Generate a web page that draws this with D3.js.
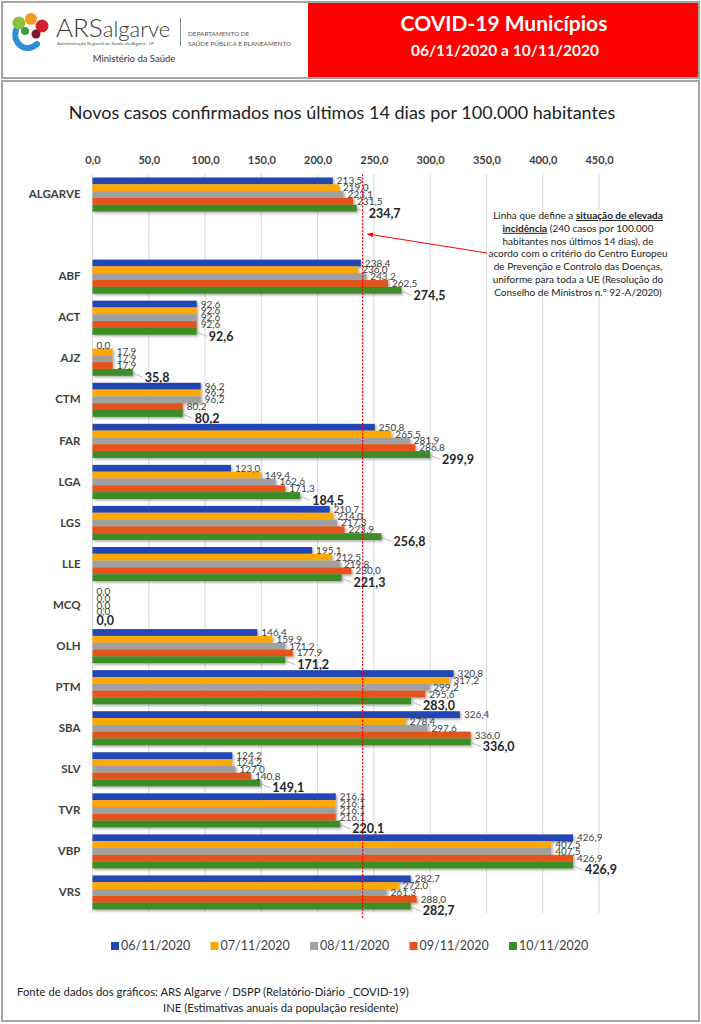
<!DOCTYPE html>
<html>
<head>
<meta charset="utf-8">
<script src="https://cdn.jsdelivr.net/npm/d3@7.9.0/dist/d3.min.js"></script>
<style>
  body { margin: 0; background: #fff; }
  svg { display: block; font-family: Lato, "Open Sans", sans-serif; }
</style>
</head>
<body>
<div id="chart"></div>
<script>
// Municipalities (ALGARVE = region total)
const municipios = ["ALGARVE", "ABF", "ACT", "AJZ", "CTM", "FAR", "LGA", "LGS", "LLE",
  "MCQ", "OLH", "PTM", "SBA", "SLV", "TVR", "VBP", "VRS"];

const dates = ["06/11/2020", "07/11/2020", "08/11/2020", "09/11/2020", "10/11/2020"];

// new cases in last 14 days per 100.000 inhabitants, one array per date
const v0611 = [213.5, 238.4, 92.6, 0.0, 96.2, 250.8, 123.0, 210.7, 195.1, 0.0, 146.4, 320.8, 326.4, 124.2, 216.1, 426.9, 282.7];
const v0711 = [219.0, 236.0, 92.6, 17.9, 96.2, 265.5, 149.4, 214.0, 212.5, 0.0, 159.9, 317.2, 278.4, 124.2, 216.1, 407.5, 272.0];
const v0811 = [223.1, 243.2, 92.6, 17.9, 96.2, 281.9, 162.6, 217.3, 219.8, 0.0, 171.2, 299.2, 297.6, 127.0, 216.1, 407.5, 261.3];
const v0911 = [231.5, 262.5, 92.6, 17.9, 80.2, 286.8, 171.3, 223.9, 230.0, 0.0, 177.9, 295.6, 336.0, 140.8, 216.1, 426.9, 288.0];
const v1011 = [234.7, 274.5, 92.6, 35.8, 80.2, 299.9, 184.5, 256.8, 221.3, 0.0, 171.2, 283.0, 336.0, 149.1, 220.1, 426.9, 282.7];

const series = [v0611, v0711, v0811, v0911, v1011];
const colors = ["#2247B4", "#FFA800", "#A0A0A0", "#E5521B", "#3C8C25"];

const xTicks = [0, 50, 100, 150, 200, 250, 300, 350, 400, 450];
const threshold = 240;

const W = 701, H = 1024;
const fmt = v => d3.format(".1f")(v).replace(".", ",");

const svg = d3.select("#chart").append("svg")
  .attr("width", W).attr("height", H);

const defs = svg.append("defs");
defs.append("filter").attr("id", "shadow")
  .attr("x", "-5%").attr("y", "-50%").attr("width", "120%").attr("height", "250%")
  .append("feDropShadow")
    .attr("dx", 1.5).attr("dy", 1.5).attr("stdDeviation", 0.8)
    .attr("flood-color", "#000").attr("flood-opacity", 0.35);
defs.append("marker").attr("id", "arrow")
  .attr("viewBox", "0 0 10 10").attr("refX", 9).attr("refY", 5)
  .attr("markerWidth", 6).attr("markerHeight", 6).attr("orient", "auto")
  .append("path").attr("d", "M0,1 L10,5 L0,9 Z").attr("fill", "#f00");

// ---- header ----
svg.append("rect").attr("x", 308).attr("y", 2).attr("width", 391).attr("height", 76).attr("fill", "#ff0000");
svg.append("rect").attr("x", 2).attr("y", 2).attr("width", 697).attr("height", 76)
  .attr("fill", "none").attr("stroke", "#a6a6a6").attr("stroke-width", 2);

svg.append("text").attr("x", 504).attr("y", 31).attr("text-anchor", "middle")
  .attr("fill", "#fff").attr("font-weight", "bold").attr("font-size", 21)
  .text("COVID-19 Municípios");
svg.append("text").attr("x", 505).attr("y", 56).attr("text-anchor", "middle")
  .attr("fill", "#fff").attr("font-weight", "bold").attr("font-size", 15.5)
  .text("06/11/2020 a 10/11/2020");

// logo
const logo = svg.append("g");
logo.append("path").attr("d", "M16,30 C12,44 26,54 37,44")
  .attr("fill", "none").attr("stroke", "#2c8fd3").attr("stroke-width", 6).attr("stroke-linecap", "round");
logo.append("circle").attr("cx", 19).attr("cy", 23).attr("r", 6.5).attr("fill", "#8bbf3c");
logo.append("circle").attr("cx", 31).attr("cy", 19).attr("r", 6).attr("fill", "#f39a1e");
logo.append("circle").attr("cx", 42).attr("cy", 26).attr("r", 6.5).attr("fill", "#d0232c");
logo.append("circle").attr("cx", 36).attr("cy", 34).attr("r", 4.5).attr("fill", "#7a1c2e");
logo.append("circle").attr("cx", 25).attr("cy", 31).attr("r", 4).attr("fill", "#3a9a4a");
logo.append("circle").attr("cx", 31).attr("cy", 27).attr("r", 2.5).attr("fill", "#fff");

const brand = svg.append("text").attr("x", 56).attr("y", 37).attr("fill", "#3a3a3a").attr("font-weight", 300);
brand.append("tspan").attr("font-size", 26).text("ARS");
brand.append("tspan").attr("font-size", 22).text("algarve");
svg.append("text").attr("x", 57).attr("y", 45).attr("font-size", 4.6).attr("fill", "#555")
  .text("Administração Regional de Saúde do Algarve, I.P.");
svg.append("line").attr("x1", 180.5).attr("x2", 180.5).attr("y1", 18).attr("y2", 46)
  .attr("stroke", "#666").attr("stroke-width", 0.8);
svg.append("text").attr("x", 188).attr("y", 36).attr("font-size", 6.4).attr("fill", "#555")
  .text("DEPARTAMENTO DE");
svg.append("text").attr("x", 188).attr("y", 46).attr("font-size", 6.4).attr("fill", "#555")
  .text("SAÚDE PÚBLICA E PLANEAMENTO");
svg.append("text").attr("x", 134).attr("y", 62).attr("text-anchor", "middle")
  .attr("font-size", 9.5).attr("fill", "#333").text("Ministério da Saúde");

// ---- body frame ----
svg.append("rect").attr("x", 2).attr("y", 81).attr("width", 697).attr("height", 940)
  .attr("fill", "none").attr("stroke", "#a6a6a6").attr("stroke-width", 2);

svg.append("text").attr("x", 342).attr("y", 119).attr("text-anchor", "middle")
  .attr("font-size", 18).attr("fill", "#222")
  .text("Novos casos confirmados nos últimos 14 dias por 100.000 habitantes");

// ---- scales ----
const slots = [municipios[0], " ", ...municipios.slice(1)];
const x = d3.scaleLinear().domain([0, 450]).range([92.5, 599]);
const y0 = d3.scaleBand().domain(slots).range([174, 913])
  .paddingInner(0.17).paddingOuter(0.085);
const y1 = d3.scaleBand().domain(dates).range([0, y0.bandwidth()]);

const [yTop, yBot] = y0.range();

// gridlines
svg.append("g").selectAll("line").data(xTicks).join("line")
  .attr("x1", d => x(d)).attr("x2", d => x(d))
  .attr("y1", yTop).attr("y2", yBot)
  .attr("stroke", "#d9d9d9").attr("stroke-width", 1);

// top axis
const xAxis = svg.append("g").attr("transform", `translate(0,${yTop - 2})`)
  .call(d3.axisTop(x).tickValues(xTicks).tickFormat(fmt).tickSize(0).tickPadding(8));
xAxis.select(".domain").remove();
xAxis.selectAll("text").attr("font-family", "Lato, sans-serif")
  .attr("font-size", 11).attr("font-weight", "bold").attr("fill", "#404040");

// left axis
const yAxis = svg.append("g").attr("transform", `translate(${x(0)},0)`)
  .call(d3.axisLeft(y0).tickSize(0).tickPadding(12));
yAxis.select(".domain").remove();
yAxis.selectAll("text").attr("font-family", "Lato, sans-serif")
  .attr("font-size", 11.5).attr("font-weight", "bold").attr("fill", "#404040");

// bars
const rows = [];
municipios.forEach((m, j) => {
  series.forEach((s, i) => rows.push({ m, i, v: s[j] }));
});

svg.append("g").attr("filter", "url(#shadow)")
  .selectAll("rect").data(rows).join("rect")
  .attr("x", x(0))
  .attr("y", d => y0(d.m) + y1(dates[d.i]))
  .attr("width", d => x(d.v) - x(0))
  .attr("height", y1.bandwidth())
  .attr("fill", d => colors[d.i]);

// threshold line
svg.append("line")
  .attr("x1", x(threshold)).attr("x2", x(threshold))
  .attr("y1", yTop).attr("y2", yBot + 5)
  .attr("stroke", "#f00").attr("stroke-width", 1.2).attr("stroke-dasharray", "2,1.5");

// value labels
const cy = d => y0(d.m) + y1(dates[d.i]) + y1.bandwidth() / 2;
const small = rows.filter(d => d.i < 4);
const last = rows.filter(d => d.i === 4);

svg.append("g").selectAll("text").data(small).join("text")
  .attr("x", d => x(d.v) + 4)
  .attr("y", d => cy(d))
  .attr("dy", "0.35em")
  .attr("font-size", 10).attr("fill", "#404040")
  .text(d => fmt(d.v));

svg.append("g").selectAll("line").data(last.filter(d => d.v > 0)).join("line")
  .attr("x1", d => x(d.v) + 1).attr("y1", d => cy(d) + 1)
  .attr("x2", d => x(d.v) + 10).attr("y2", d => cy(d) + 5)
  .attr("stroke", "#a6a6a6").attr("stroke-width", 0.8);

svg.append("g").selectAll("text").data(last).join("text")
  .attr("x", d => x(d.v) + (d.v > 0 ? 12 : 4))
  .attr("y", d => cy(d) + (d.v > 0 ? 5 : 2))
  .attr("dy", "0.35em")
  .attr("font-size", 12.5).attr("font-weight", "bold").attr("fill", "#262626")
  .text(d => fmt(d.v));

// annotation
const note = svg.append("text").attr("text-anchor", "middle")
  .attr("font-size", 10).attr("fill", "#222");
const noteLines = [
  [["Linha que define a ", false], ["situação de elevada", true]],
  [["incidência", true], [" (240 casos por 100.000", false]],
  [["habitantes nos últimos 14 dias), de", false]],
  [["acordo com o critério do Centro Europeu", false]],
  [["de Prevenção e Controlo das Doenças,", false]],
  [["uniforme para toda a UE (Resolução do", false]],
  [["Conselho de Ministros n.º 92-A/2020)", false]]
];
noteLines.forEach((parts, k) => {
  parts.forEach(([t, strong], p) => {
    const ts = note.append("tspan").text(t);
    if (p === 0) ts.attr("x", 578).attr("y", 219 + k * 12.8);
    if (strong) ts.attr("font-weight", "bold").attr("text-decoration", "underline");
  });
});
svg.append("line")
  .attr("x1", 487).attr("y1", 253)
  .attr("x2", x(threshold) + 5).attr("y2", 234)
  .attr("stroke", "#f00").attr("stroke-width", 1)
  .attr("marker-end", "url(#arrow)");

// legend
const legend = svg.append("g").selectAll("g").data(dates).join("g")
  .attr("transform", (d, i) => `translate(${111 + i * 99.5},946)`);
legend.append("rect").attr("x", 0).attr("y", -4).attr("width", 8).attr("height", 8)
  .attr("fill", (d, i) => colors[i]);
legend.append("text").attr("x", 10).attr("y", 0).attr("dy", "0.35em")
  .attr("font-size", 12.5).attr("fill", "#404040").text(d => d);

// footer
svg.append("text").attr("x", 17).attr("y", 996).attr("font-size", 11.3).attr("fill", "#222")
  .text("Fonte de dados dos gráficos: ARS Algarve / DSPP (Relatório-Diário _COVID-19)");
svg.append("text").attr("x", 163).attr("y", 1012).attr("font-size", 11.3).attr("fill", "#222")
  .text("INE (Estimativas anuais da população residente)");
</script>
</body>
</html>
